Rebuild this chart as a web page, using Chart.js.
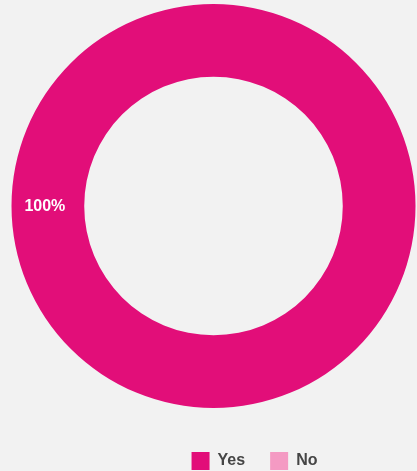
<!DOCTYPE html>
<html lang="en">
<head>
    <meta charset="UTF-8">
    <title>Yes / No</title>
    <script src="https://cdn.jsdelivr.net/npm/chart.js"></script>
    <style>
        html, body { margin: 0; padding: 0; background: #f2f2f2; }
        #wrap { width: 417px; height: 471px; }
    </style>
</head>
<body>
    <div id="wrap"><canvas id="chart" width="417" height="471"></canvas></div>

    <script>
        // data
        const categories = ['Yes', 'No'];
        const values = [100, 0];
        const colors = ['#e20e79', '#f49ac3'];

        // percentage label on the ring (left side)
        const ringLabel = {
            id: 'ringLabel',
            afterDatasetsDraw(chart) {
                const ctx = chart.ctx;
                const meta = chart.getDatasetMeta(0);
                const total = values.reduce((a, b) => a + b, 0);
                meta.data.forEach((arc, i) => {
                    if (!values[i]) return;
                    const r = (arc.innerRadius + arc.outerRadius) / 2;
                    ctx.save();
                    ctx.fillStyle = '#ffffff';
                    ctx.font = 'bold 16px "Liberation Sans", Arial, sans-serif';
                    ctx.textAlign = 'center';
                    ctx.textBaseline = 'middle';
                    ctx.fillText(Math.round(values[i] / total * 100) + '%', arc.x - r - 3, arc.y + 1);
                    ctx.restore();
                });
            }
        };

        // legend sits lower and a bit to the right in the original
        const legendShift = {
            id: 'legendShift',
            afterLayout(chart) {
                const lg = chart.legend;
                lg.top += 19; lg.bottom += 19;
                lg.left += 41; lg.right += 41;
            }
        };

        new Chart(document.getElementById('chart'), {
            type: 'doughnut',
            data: {
                labels: categories,
                datasets: [{
                    data: values,
                    backgroundColor: colors,
                    borderWidth: 0
                }]
            },
            options: {
                responsive: false,
                animation: false,
                cutout: '64%',
                layout: { padding: { top: 4, left: 10, right: 0, bottom: 10 } },
                plugins: {
                    tooltip: { enabled: false },
                    legend: {
                        position: 'bottom',
                        labels: {
                            boxWidth: 18,
                            boxHeight: 18,
                            padding: 25,
                            color: '#454545',
                            font: { family: '"Liberation Sans", Arial, sans-serif', size: 16, weight: 'bold' }
                        }
                    }
                }
            },
            plugins: [ringLabel, legendShift]
        });
    </script>
</body>
</html>
